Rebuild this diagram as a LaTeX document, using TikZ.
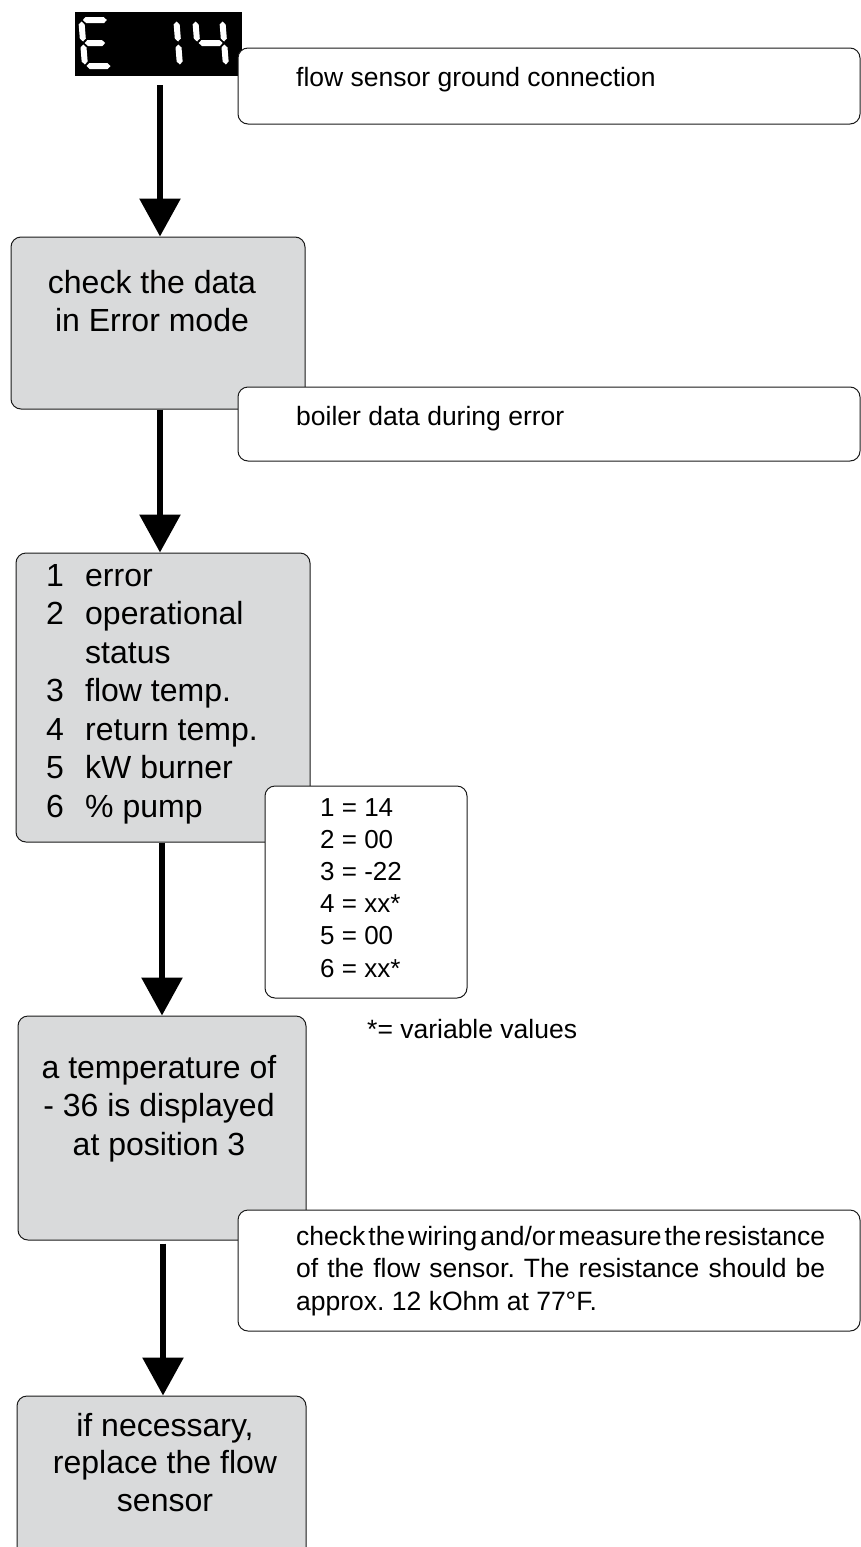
\documentclass[tikz,border=0pt]{standalone}
\usepackage{fontspec}
\setmainfont{Liberation Sans}
\usetikzlibrary{arrows.meta}
\definecolor{boxgray}{HTML}{D9DADB}
\definecolor{edgecol}{HTML}{1A1A1A}
\newcommand\segH[3]{\fill (#1,#3) -- ({#1+3},{#3+3}) -- ({#2-3},{#3+3}) -- (#2,#3) -- ({#2-3},{#3-3}) -- ({#1+3},{#3-3}) -- cycle;}
\newcommand\segV[3]{\fill (#1,#2) -- ({#1+3},{#2+3}) -- ({#1+3},{#3-3}) -- (#1,#3) -- ({#1-3},{#3-3}) -- ({#1-3},{#2+3}) -- cycle;}
\begin{document}
\begin{tikzpicture}[x=1pt,y=-1pt,
  graybox/.style={draw=edgecol, line width=1pt, fill=boxgray, rounded corners=10pt, inner sep=0pt},
  notebox/.style={draw=edgecol, line width=1pt, fill=white, rounded corners=10pt, inner sep=0pt},
  flow/.style={line width=6pt, -{Triangle[width=40pt,length=38pt]}},
  bigtxt/.style={anchor=base, inner sep=0pt, font=\fontsize{32}{38.5}\selectfont},
  smalltxt/.style={anchor=base west, inner sep=0pt, font=\fontsize{26.5}{29}\selectfont}
]
\useasboundingbox (0,0) rectangle (861,1547);
\clip (0,0) rectangle (861,1547);

% display
\node[fill=black, minimum width=167pt, minimum height=64pt, inner sep=0pt] (disp) at (158.5,44) {};
% E
\begin{scope}[shift={(85,66)}, yscale=-1, xslant=0.08, white]
  \segH{1.5}{25.5}{46}\segH{1.5}{22}{23}\segH{1.5}{25.5}{0}
  \segV{0}{24.5}{44.5}\segV{0}{1.5}{21.5}
\end{scope}
% 1
\begin{scope}[shift={(153,66)}, yscale=-1, xslant=0.08, white]
  \segV{27}{24.5}{44.5}\segV{27}{1.5}{21.5}
\end{scope}
% 4
\begin{scope}[shift={(199,66)}, yscale=-1, xslant=0.08, white]
  \segV{27}{24.5}{44.5}\segV{27}{1.5}{21.5}
  \segV{0}{24.5}{44.5}\segH{1.5}{25.5}{23}
\end{scope}

% gray boxes
\node[graybox, minimum width=294pt, minimum height=172pt] (b2) at (158,323) {};
\node[graybox, minimum width=294pt, minimum height=289pt] (b3) at (163,697.5) {};
\node[graybox, minimum width=288pt, minimum height=224pt] (b4) at (162,1128) {};
\node[graybox, minimum width=289pt, minimum height=170pt] (b5) at (161.5,1481) {};

% texts in gray boxes
\node[bigtxt] (t2) at (152,293) {\parbox[t]{280pt}{\centering check the data\\ in Error mode}};
\node[anchor=base west, inner sep=0pt, font=\fontsize{32}{38.5}\selectfont] (t3) at (46,586)
  {\parbox[t]{260pt}{\raggedright
   \makebox[39pt][l]{1}error\\
   \makebox[39pt][l]{2}operational\\
   \makebox[39pt][l]{}status\\
   \makebox[39pt][l]{3}flow temp.\\
   \makebox[39pt][l]{4}return temp.\\
   \makebox[39pt][l]{5}kW burner\\
   \makebox[39pt][l]{6}\% pump}};
\node[bigtxt] (t4) at (159,1078) {\parbox[t]{280pt}{\centering a temperature of\\ - 36 is displayed\\ at position 3}};
\node[bigtxt, font=\fontsize{32}{37.5}\selectfont] (t5) at (165,1436) {\parbox[t]{280pt}{\centering if necessary,\\ replace the flow\\ sensor}};

% arrows
\coordinate (a1s) at ([xshift=1.5pt,yshift=-9pt]disp.south);
\draw[flow] (a1s) -- (a1s |- b2.north);
\coordinate (a2s) at ([xshift=2pt]b2.south);
\draw[flow] (a2s) -- (a2s |- b3.north);
\coordinate (a3s) at ([xshift=-1pt]b3.south);
\draw[flow] (a3s) -- (a3s |- b4.north);
\coordinate (a4s) at ([xshift=1pt,yshift=-3pt]b4.south);
\draw[flow] (a4s) -- (a4s |- b5.north);

% note boxes
\node[notebox, minimum width=622pt, minimum height=76pt] (n1) at (549,86) {};
\node[smalltxt] (n1t) at (296,86) {flow sensor ground connection};
\node[notebox, minimum width=622pt, minimum height=74pt] (n2) at (549,424) {};
\node[smalltxt] (n2t) at (296,425) {boiler data during error};
\node[notebox, minimum width=202pt, minimum height=212pt] (vb) at (366,892) {};
\node[anchor=base west, inner sep=0pt, font=\fontsize{26}{32.2}\selectfont] (vbt) at (320,816)
  {\parbox[t]{140pt}{\raggedright 1 = 14\\ 2 = 00\\ 3 = -22\\ 4 = xx*\\ 5 = 00\\ 6 = xx*}};
\node[smalltxt] (var) at (367,1038) {*= variable values};
\node[notebox, minimum width=622pt, minimum height=121pt] (n3) at (549,1270.5) {};
\node[smalltxt, font=\fontsize{26.5}{32.5}\selectfont] (n3t) at (296,1245) {\parbox[t]{529pt}{\frenchspacing
  \makebox[529pt][s]{\spaceskip=0pt plus 1fil check the wiring and/or measure the resistance}\\
  \makebox[529pt][s]{\spaceskip=0pt plus 1fil of the flow sensor. The resistance should be}\\
  approx. 12 kOhm at 77°F.}};
\end{tikzpicture}
\end{document}
